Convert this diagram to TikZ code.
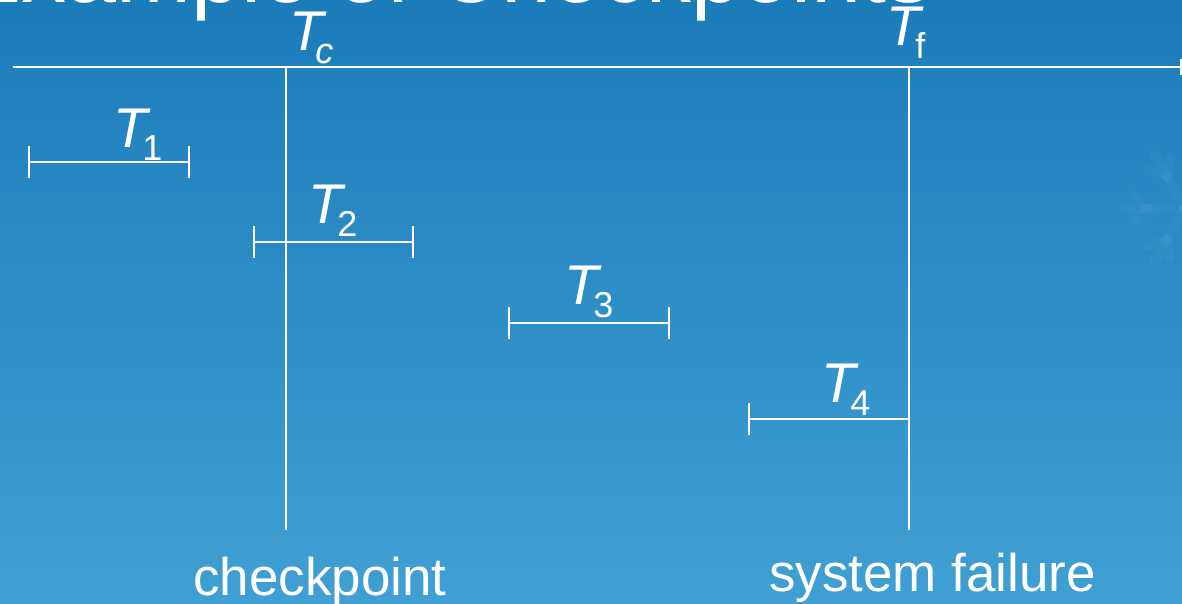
\documentclass[tikz,border=0pt]{standalone}
\usepackage{fontspec}
\setmainfont{Liberation Sans}
\definecolor{bgtop}{RGB}{27,124,186}
\definecolor{bgbottom}{RGB}{64,160,211}
% upright subscript set below the baseline, tucked under the italic T
\newcommand\tsub[1]{\kern-5pt\raisebox{-13pt}{\fontsize{36}{36}\selectfont\upshape #1}}
\tikzset{
  rule/.style={white, line width=2pt},
  tickmark/.style={white, line width=2pt},
  tlabel/.style={text=white, inner sep=0pt, anchor=base west,
    font=\fontsize{56}{56}\selectfont},
  caption/.style={text=white, inner sep=0pt, anchor=base west,
    font=\fontsize{53}{53}\selectfont},
  heading/.style={text=white, inner sep=0pt, anchor=base east,
    font=\fontsize{90}{90}\selectfont},
  flake/.style={white, opacity=0.03, line width=9pt, line cap=round},
}
\begin{document}
\begin{tikzpicture}[x=1pt,y=-1pt]
  \useasboundingbox (0,0) rectangle (1182,604);
  \clip (0,0) rectangle (1182,604);
  % background
  \shade[top color=bgtop, bottom color=bgbottom] (0,0) rectangle (1182,604);
  % faint ornament on the right edge
  \begin{scope}[shift={(1185,208)}]
    \foreach \a in {0,60,...,300} {
      \draw[flake] (0,0) -- (\a:62);
      \draw[flake] (\a:36) -- ++(\a+40:20);
      \draw[flake] (\a:36) -- ++(\a-40:20);
    }
  \end{scope}
  % title
  \node[heading] (title) at (932,3) {Example of Checkpoints};

  % time axis
  \coordinate (axs) at (13,67);
  \coordinate (axe) at (1181,67);
  \draw[rule] (axs) -- (axe);
  \draw[tickmark] (axe) ++(0,-8) -- ++(0,16);

  % checkpoint and failure instants
  \coordinate (tc) at (286,67);
  \coordinate (tcb) at (286,530);
  \coordinate (tf) at (909,67);
  \coordinate (tfb) at (909,530);
  \draw[rule] (tc) -- (tcb);
  \draw[rule] (tf) -- (tfb);
  \node[tlabel] (lc) at (289,51) {{\itshape T}\kern-3pt\tsub{\itshape c}};
  \node[tlabel] (lf) at (886,46) {{\itshape T}\tsub{f}};

  % transactions
  \coordinate (a1) at (29,162);  \coordinate (b1) at (189,162);
  \coordinate (a2) at (254,242); \coordinate (b2) at (413,242);
  \coordinate (a3) at (509,323); \coordinate (b3) at (669,323);
  \coordinate (a4) at (749,419); \coordinate (b4) at (909,419);
  \foreach \i in {1,2,3} {
    \draw[rule] (a\i) -- (b\i);
    \draw[tickmark] (a\i) ++(0,-16) -- ++(0,32);
    \draw[tickmark] (b\i) ++(0,-16) -- ++(0,32);
  }
  \draw[rule] (a4) -- (b4);
  \draw[tickmark] (a4) ++(0,-16) -- ++(0,32);

  \node[tlabel] (l1) at (113,148) {{\itshape T}\tsub{1}};
  \node[tlabel] (l2) at (308,223) {{\itshape T}\tsub{2}};
  \node[tlabel] (l3) at (564,304) {{\itshape T}\tsub{3}};
  \node[tlabel] (l4) at (821,402) {{\itshape T}\tsub{4}};

  % captions
  \node[caption] (cp) at (193,595) {checkpoint};
  \node[caption] (sf) at (769,591) {system failure};
\end{tikzpicture}
\end{document}
